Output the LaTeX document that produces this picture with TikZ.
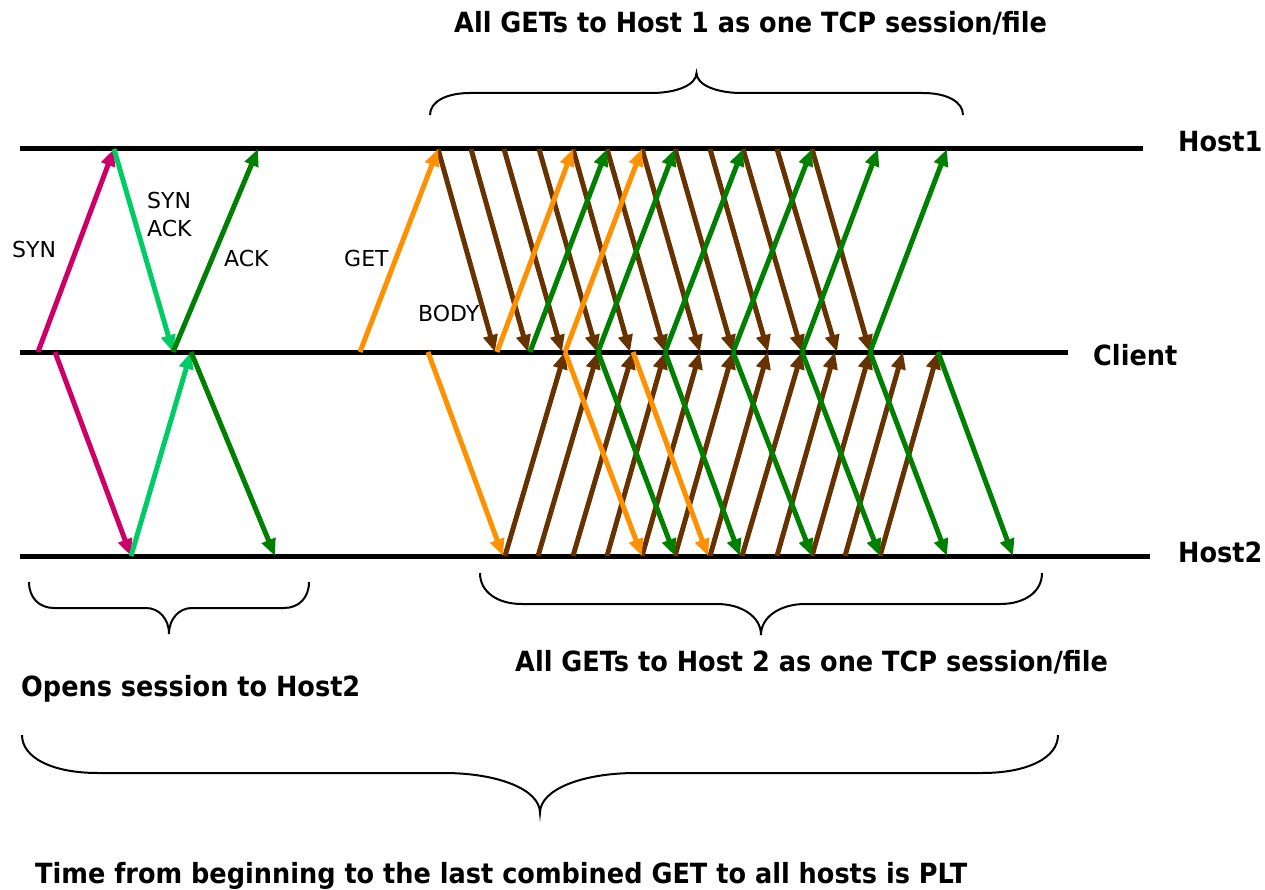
\documentclass[tikz,border=0pt]{standalone}
\usepackage{fontspec}
\setmainfont{DejaVu Sans}
\newfontfamily\titlefont[FakeStretch=0.92]{DejaVu Sans}
\usetikzlibrary{arrows.meta}

\definecolor{synpink}{RGB}{204,0,102}
\definecolor{synackgreen}{RGB}{0,204,102}
\definecolor{ackgreen}{RGB}{0,128,0}
\definecolor{getorange}{RGB}{255,145,0}
\definecolor{bodybrown}{RGB}{102,51,0}

\tikzset{
  timeline/.style={line width=5pt},
  msg/.style={line width=5pt,-{Triangle[length=17pt,width=14pt]}},
  lbl/.style={font=\fontsize{22}{26}\selectfont,inner sep=0pt,anchor=base west},
  title/.style={font={\titlefont\fontsize{27.8}{30}\selectfont\bfseries},inner sep=0pt,anchor=base west},
  bracestroke/.style={line width=2pt},
}

% curly brace: xl, xr, y of ends, y of bar, y of tip, curl width, tip half-width
\newcommand\drawbrace[7]{%
  \pgfmathsetmacro\bxm{(#1+#2)/2}%
  \draw[bracestroke] (#1,#3) .. controls (#1,{#3+0.6*(#4-#3)}) and ({#1+0.4*#6},#4) .. ({#1+#6},#4)
    -- ({\bxm-#7},#4) .. controls ({\bxm-0.45*#7},#4) and (\bxm,{#4+0.4*(#5-#4)}) .. (\bxm,#5)
    .. controls (\bxm,{#4+0.4*(#5-#4)}) and ({\bxm+0.45*#7},#4) .. ({\bxm+#7},#4)
    -- ({#2-#6},#4) .. controls ({#2-0.4*#6},#4) and (#2,{#3+0.6*(#4-#3)}) .. (#2,#3);
}

\begin{document}
\begin{tikzpicture}[x=1pt,y=-1pt]
\useasboundingbox (0,0) rectangle (1265,890);
\fill[white] (0,0) rectangle (1265,890);

% time lines
\coordinate (h1a) at (20,149);  \coordinate (h1b) at (1143,149);
\coordinate (cla) at (20,352);  \coordinate (clb) at (1068,352);
\coordinate (h2a) at (20,556);  \coordinate (h2b) at (1150,556);
\draw[timeline] (h1a) -- (h1b);
\draw[timeline] (cla) -- (clb);
\draw[timeline] (h2a) -- (h2b);

\node[title] (lh1) at (1178,152) {Host1};
\node[title] (lcl) at (1093,365) {Client};
\node[title] (lh2) at (1178,562) {Host2};

% handshake with Host1
\coordinate (s1) at (38,352);  \coordinate (s2) at (114,149);
\coordinate (s3) at (173,352); \coordinate (s4) at (258,149);
\draw[msg,synpink] (s1) -- (s2);
\draw[msg,synackgreen] (s2) -- (s3);
\draw[msg,ackgreen] (s3) -- (s4);

% handshake with Host2
\coordinate (t1) at (55,352);  \coordinate (t2) at (131,556);
\coordinate (t3) at (191,352); \coordinate (t4) at (275,556);
\draw[msg,synpink] (t1) -- (t2);
\draw[msg,synackgreen] (t2) -- (t3);
\draw[msg,ackgreen] (t3) -- (t4);

\node[lbl] (lsyn) at (12,258) {SYN};
\node[lbl] (lsynack1) at (147,209) {SYN};
\node[lbl] (lsynack2) at (147,237) {ACK};
\node[lbl] (lack) at (224,267) {ACK};
\node[lbl] (lget) at (344,267) {GET};
\node[lbl] (lbody) at (418,322) {BODY};

% bodies from Host1 to the client
\foreach \s/\e [count=\i] in {438/495,471/528,504/562,539/597,573/630,607/665,642/700,675/733,710/768,743/802,777/837,812/870}{
  \coordinate (ua\i) at (\s,149);
  \coordinate (ub\i) at (\e,352);
  \draw[msg,bodybrown] (ua\i) -- (ub\i);
}
% bodies from Host2 to the client
\foreach \s/\e [count=\i] in {505/565,538/598,573/633,607/665,642/700,675/733,710/768,742/802,777/835,812/870,845/903,880/938}{
  \coordinate (la\i) at (\s,556);
  \coordinate (lb\i) at (\e,352);
  \draw[msg,bodybrown] (la\i) -- (lb\i);
}

% requests from the client to Host1
\foreach \s/\e/\c [count=\i] in {360/438/getorange,497/573/getorange,530/607/ackgreen,565/642/getorange,598/675/ackgreen,665/743/ackgreen,733/812/ackgreen,802/878/ackgreen,870/947/ackgreen}{
  \coordinate (ra\i) at (\s,352);
  \coordinate (rb\i) at (\e,149);
  \draw[msg,color=\c] (ra\i) -- (rb\i);
}
% requests from the client to Host2
\foreach \s/\e/\c [count=\i] in {428/503/getorange,565/642/getorange,598/675/ackgreen,633/708/getorange,665/740/ackgreen,733/812/ackgreen,802/880/ackgreen,870/947/ackgreen,938/1013/ackgreen}{
  \coordinate (qa\i) at (\s,352);
  \coordinate (qb\i) at (\e,556);
  \draw[msg,color=\c] (qa\i) -- (qb\i);
}

% braces and captions
\drawbrace{430}{963}{115}{93}{73}{40}{45}
\node[title] (cap1) at (454,33) {All GETs to Host 1 as one TCP session/file};

\drawbrace{29}{309}{582}{608}{634}{25}{23}
\node[title] (cap2) at (21,696) {Opens session to Host2};

\drawbrace{480}{1042}{573}{604}{635}{42}{44}
\node[title] (cap3) at (515,671) {All GETs to Host 2 as one TCP session/file};

\drawbrace{22}{1058}{735}{773}{813}{76}{96}
\node[title] (cap4) at (35,883) {Time from beginning to the last combined GET to all hosts is PLT};
\end{tikzpicture}
\end{document}
